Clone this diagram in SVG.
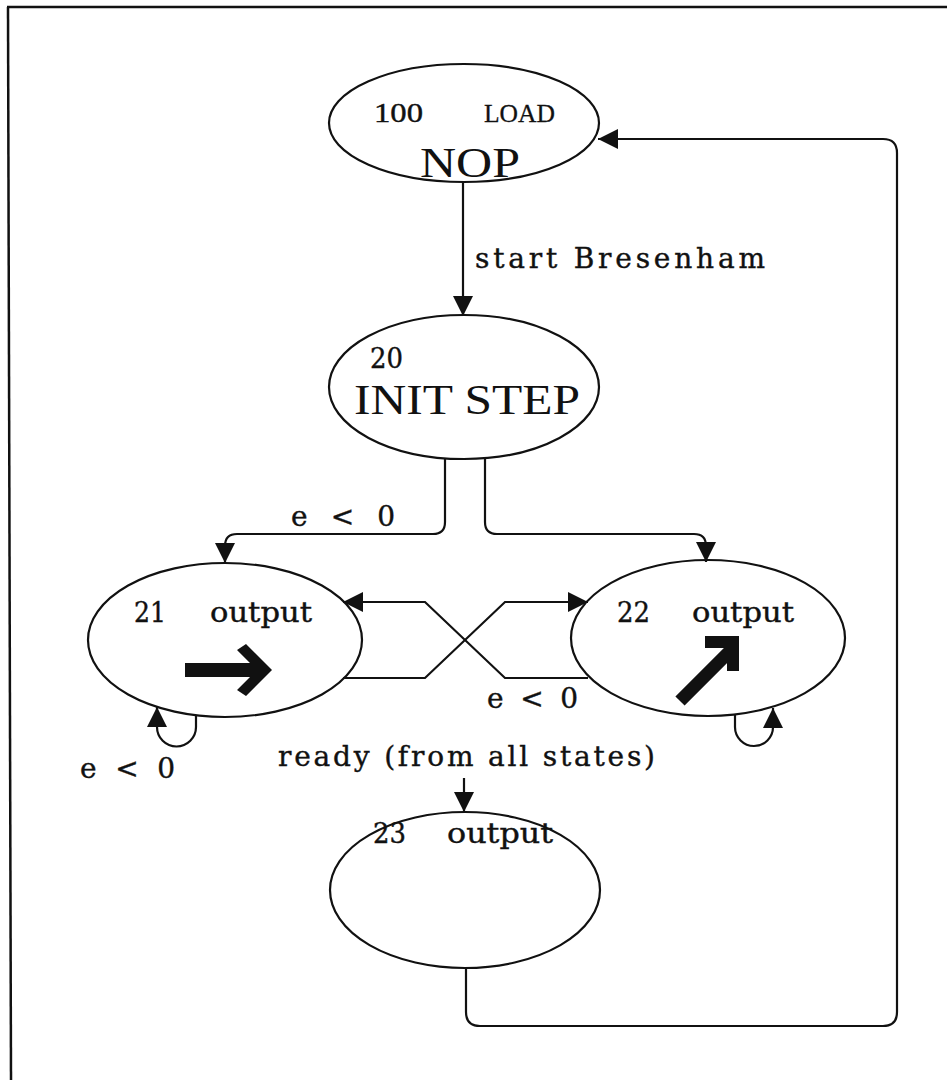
<svg xmlns="http://www.w3.org/2000/svg" width="947" height="1080" viewBox="0 0 947 1080">
<style>
.st{fill:none;stroke:#111;stroke-width:2.2}
.cn{fill:none;stroke:#111;stroke-width:2.2;marker-end:url(#ah)}
.lbl{font-family:"DejaVu Serif",serif;font-size:28px;fill:#111;stroke:#111;stroke-width:0.4}
.big{font-family:"Liberation Serif",serif;fill:#111}
.glyph{fill:#111}
</style>
<defs>
<marker id="ah" markerUnits="userSpaceOnUse" markerWidth="20" markerHeight="20" refX="20" refY="10" orient="auto">
<path d="M0,0 L20,10 L0,20 z" fill="#111"/>
</marker>
</defs>
<g id="frame">
<line x1="7" y1="7" x2="947" y2="7" stroke="#111" stroke-width="2.5"/>
<line x1="8" y1="7" x2="11" y2="1080" stroke="#111" stroke-width="2.5"/>
</g>
<g id="n100">
<ellipse class="st" cx="464" cy="123" rx="135" ry="59"/>
<text class="big" x="374" y="122" font-size="27" textLength="49" lengthAdjust="spacingAndGlyphs" stroke="#111" stroke-width="0.4">100</text>
<text class="big" x="484" y="122" font-size="26" textLength="71" lengthAdjust="spacingAndGlyphs" stroke="#111" stroke-width="0.3">LOAD</text>
<text class="big" x="420" y="177" font-size="42" textLength="100" lengthAdjust="spacingAndGlyphs">NOP</text>
</g>
<g id="n20">
<ellipse class="st" cx="464" cy="387" rx="135" ry="72"/>
<text class="lbl" x="370" y="368" font-size="26" textLength="33" lengthAdjust="spacingAndGlyphs">20</text>
<text class="big" x="354" y="414" font-size="42" textLength="226" lengthAdjust="spacingAndGlyphs">INIT STEP</text>
</g>
<g id="n21">
<ellipse class="st" cx="225" cy="640" rx="137" ry="77"/>
<text class="lbl" x="134" y="622" textLength="32" lengthAdjust="spacingAndGlyphs">21</text>
<text class="lbl" x="210" y="622" textLength="102" lengthAdjust="spacingAndGlyphs">output</text>
<path class="glyph" d="M185,663 H250 L237,650 L246,644 L272,670 L246,696 L237,690 L250,677 H185 Z"/>
</g>
<g id="n22">
<ellipse class="st" cx="708" cy="638" rx="137" ry="78"/>
<text class="lbl" x="617" y="622" textLength="33" lengthAdjust="spacingAndGlyphs">22</text>
<text class="lbl" x="692" y="622" textLength="102" lengthAdjust="spacingAndGlyphs">output</text>
<line x1="680" y1="701" x2="732" y2="649" stroke="#111" stroke-width="13"/>
<path class="glyph" d="M705,636 H739 V671 H727 V648 H705 Z"/>
</g>
<g id="n23">
<ellipse class="st" cx="465" cy="890" rx="135" ry="78"/>
<text class="lbl" x="373" y="843" textLength="33" lengthAdjust="spacingAndGlyphs">23</text>
<text class="lbl" x="447" y="843" textLength="106" lengthAdjust="spacingAndGlyphs">output</text>
</g>
<g id="connectors">
<path class="cn" d="M463,183 V316"/>
<path class="cn" d="M445,459 V522 Q445,534 433,534 H237 Q225,534 225,546 V563"/>
<path class="cn" d="M485,459 V522 Q485,534 497,534 H694 Q706,534 706,546 V562"/>
<path class="cn" d="M588,678 H505 L425,602 H343"/>
<path class="cn" d="M343,678 H425 L505,602 H588"/>
<path class="cn" d="M196,715 V727 A19.5,19.5 0 0 1 157,727 V707"/>
<path class="cn" d="M735,714 V727 A19,19 0 0 0 773,727 V708"/>
<path class="cn" d="M464,778 V812"/>
<path class="cn" d="M466,968 V1012 Q466,1026 480,1026 H883 Q897,1026 897,1012 V153 Q897,139 883,139 H598"/>
</g>
<g id="labels">
<text class="lbl" x="475" y="268" textLength="290" lengthAdjust="spacing">start Bresenham</text>
<text class="lbl" x="291" y="526" textLength="104" lengthAdjust="spacing">e &lt; 0</text>
<text class="lbl" x="487" y="708" textLength="91" lengthAdjust="spacing">e &lt; 0</text>
<text class="lbl" x="80" y="778" textLength="95" lengthAdjust="spacing">e &lt; 0</text>
<text class="lbl" x="278" y="766" textLength="377" lengthAdjust="spacing">ready (from all states)</text>
</g>
</svg>
